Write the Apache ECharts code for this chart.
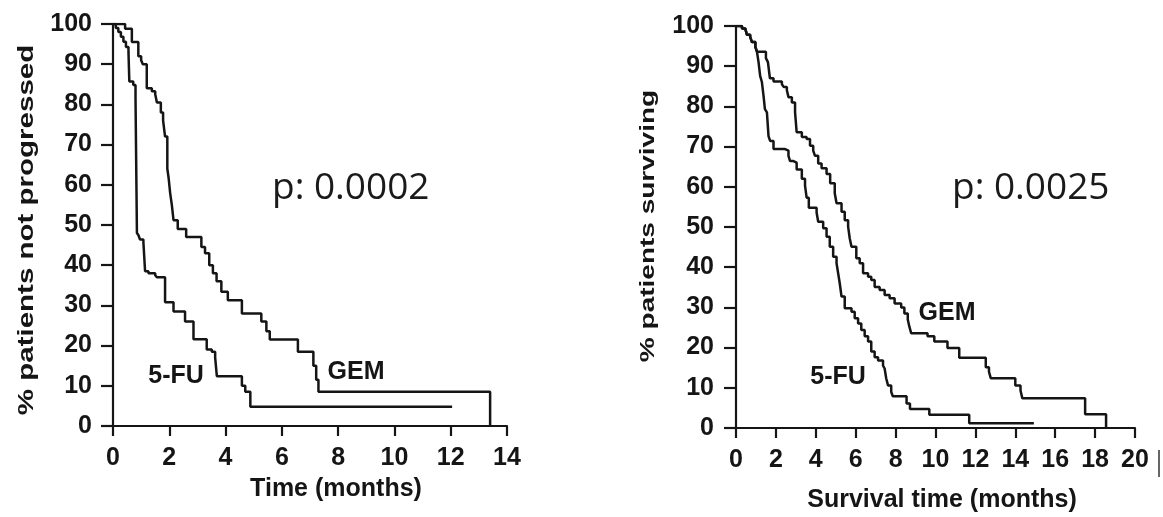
<!DOCTYPE html>
<html>
<head>
<meta charset="utf-8">
<script src="https://cdn.jsdelivr.net/npm/echarts/dist/echarts.min.js"></script>
<style>
  html, body { margin: 0; padding: 0; background: #ffffff; }
  #chart { width: 1163px; height: 517px; }
</style>
</head>
<body>
<div id="chart"></div>
<script>
// Kaplan-Meier curves: progression-free (left panel) and overall survival (right panel)
// Times in months, values in % of patients.

const pfsGemT = [0, 0.43, 0.67, 0.9, 1.0, 1.06, 1.2, 1.38, 1.5, 1.56, 1.7, 1.78, 1.85, 1.93, 1.98, 2.03, 2.09, 2.15, 2.3, 2.6, 3.14, 3.27, 3.42, 3.55, 3.68, 3.85, 4.08, 4.58, 5.27, 5.45, 5.57, 6.57, 7.12, 7.22, 7.3, 13.4];
const pfsGemV = [100, 98.8, 95.5, 92, 91, 90, 84, 83.3, 82.5, 80.5, 78, 76, 72, 64, 61.5, 58, 55, 51.2, 49, 47, 44.5, 43, 40, 38, 36, 33.4, 31.3, 28, 26, 23.6, 21.5, 18.5, 15, 11.5, 8.5, 0];

const pfsFuT = [0, 0.1, 0.19, 0.28, 0.37, 0.46, 0.55, 0.58, 0.72, 0.8, 0.85, 0.9, 0.96, 1.08, 1.14, 1.26, 1.5, 1.56, 1.85, 2.15, 2.56, 2.86, 3.33, 3.51, 3.63, 3.69, 4.58, 4.7, 4.88, 12.05];
const pfsFuV = [100, 99, 98, 96.8, 95.6, 94.3, 93, 85.7, 84.8, 81.6, 48, 47.5, 46.4, 45.7, 38.5, 38, 37.5, 37, 30.8, 28.5, 26, 21.6, 19, 18.5, 17, 12.4, 10, 8.5, 4.8, 4.8];

const osGemT = [0, 0.3, 0.46, 0.55, 0.71, 0.8, 0.97, 1.05, 1.5, 1.6, 1.7, 1.88, 2.3, 2.4, 2.55, 2.63, 2.8, 2.96, 3.04, 3.3, 3.54, 3.71, 3.87, 3.96, 4.12, 4.29, 4.54, 4.72, 4.95, 5.04, 5.29, 5.45, 5.62, 5.7, 5.79, 6.03, 6.2, 6.37, 6.62, 6.78, 6.95, 7.2, 7.45, 7.7, 7.95, 8.28, 8.44, 8.61, 8.69, 8.78, 9.6, 9.94, 10.6, 11.19, 12.52, 12.68, 12.77, 14.0, 14.26, 14.35, 17.5, 18.55];
const osGemV = [100, 99.4, 99, 97.8, 97.3, 96, 94.8, 93.6, 92, 91, 87, 86.2, 85.5, 84.8, 84, 82.3, 81, 78.6, 73.6, 72.4, 71.9, 70.2, 69, 67.7, 65.8, 64.6, 63.2, 60.9, 58.4, 55.9, 53.8, 51.7, 50.1, 47.2, 45.1, 42.2, 41, 38.5, 37.6, 36.8, 35.1, 34.3, 33.1, 32.3, 31, 30, 28.5, 27, 25.2, 23.6, 22.8, 21.5, 19.9, 17.5, 15.1, 14, 12.4, 10.6, 9.4, 7.4, 3.4, 0];

const osFuT = [0, 0.3, 0.46, 0.55, 0.71, 0.8, 0.97, 1.05, 1.13, 1.21, 1.3, 1.38, 1.45, 1.55, 1.63, 1.71, 1.88, 2.46, 2.63, 2.71, 2.88, 3.04, 3.3, 3.46, 3.54, 3.65, 4.04, 4.12, 4.37, 4.54, 4.7, 4.87, 5.04, 5.12, 5.2, 5.29, 5.45, 5.79, 5.95, 6.12, 6.28, 6.45, 6.62, 6.78, 6.95, 7.12, 7.37, 7.45, 7.53, 7.62, 7.78, 7.86, 8.55, 8.72, 9.69, 11.69, 14.93];
const osFuV = [100, 99.4, 99, 97.8, 97.3, 96, 94.8, 93.6, 91, 87.6, 86, 82.6, 79.3, 78.5, 72.6, 71.4, 69.4, 69, 67.7, 66.4, 66, 64.3, 62, 60.3, 57.3, 54.8, 53.6, 51.3, 49.7, 47.6, 45.1, 42.6, 41, 38.5, 36, 32.7, 29.8, 28.9, 27.3, 26, 24.4, 22.8, 21.5, 19, 17.6, 16.8, 15.5, 14.8, 12.3, 10.6, 9, 7.9, 6.1, 4.7, 3.3, 1.2, 1.2];

// Axis ranges
const pfsMonthsMax = 14;
const osMonthsMax = 20;
const monthStep = 2;
const pctMax = 100;
const pctStep = 10;

// Text
const seriesNames = ['GEM', '5-FU'];
const pValues = ['p: 0.0002', 'p: 0.0025'];
const yTitles = ['% patients not progressed', '% patients surviving'];
const xTitles = ['Time (months)', 'Survival time (months)'];

const INK = '#151515';
const FONT = '"Liberation Sans", Arial, Helvetica, sans-serif';

function zip(t, v) { return t.map((x, i) => [x, v[i]]); }

function xAxisCfg(gridIndex, max) {
  return {
    type: 'value', gridIndex, min: 0, max, interval: monthStep,
    axisLine: { show: true, onZero: false, lineStyle: { color: INK, width: 2.2 } },
    axisTick: { show: true, inside: false, length: 10, lineStyle: { color: INK, width: 2.2 } },
    axisLabel: { color: INK, fontSize: 25, fontWeight: 'bold', fontFamily: FONT, margin: 20 },
    splitLine: { show: false }
  };
}
function yAxisCfg(gridIndex, margin) {
  return {
    type: 'value', gridIndex, min: 0, max: pctMax, interval: pctStep,
    axisLine: { show: true, onZero: false, lineStyle: { color: INK, width: 2.2 } },
    axisTick: { show: true, inside: false, length: 12, lineStyle: { color: INK, width: 2.2 } },
    axisLabel: { color: INK, fontSize: 25, fontWeight: 'bold', fontFamily: FONT, margin },
    splitLine: { show: false }
  };
}
function kmSeries(name, xi, data) {
  return {
    type: 'line', name, xAxisIndex: xi, yAxisIndex: xi, data,
    step: 'end', showSymbol: false, symbol: 'none',
    lineStyle: { color: INK, width: 2.5 }, silent: true
  };
}
function boldText(text, x, y, size, extra) {
  return Object.assign({
    type: 'text', x, y, silent: true,
    style: { text, fill: INK, font: 'bold ' + size + 'px ' + FONT, align: 'center', verticalAlign: 'middle' }
  }, extra || {});
}
function pText(text, x, y) {
  return {
    type: 'text', x, y, silent: true,
    style: { text, fill: '#1a1a1a', font: '37px "Open Sans", "Noto Sans", sans-serif', align: 'left', verticalAlign: 'middle' }
  };
}

const chart = echarts.init(document.getElementById('chart'), null, { renderer: 'canvas' });
chart.setOption({
  animation: false,
  backgroundColor: '#ffffff',
  grid: [
    { left: 113, top: 24, width: 394, height: 402 },
    { left: 736, top: 26, width: 399, height: 402 }
  ],
  xAxis: [xAxisCfg(0, pfsMonthsMax), xAxisCfg(1, osMonthsMax)],
  yAxis: [yAxisCfg(0, 21), yAxisCfg(1, 22)],
  series: [
    kmSeries(seriesNames[0], 0, zip(pfsGemT, pfsGemV)),
    kmSeries(seriesNames[1], 0, zip(pfsFuT, pfsFuV)),
    kmSeries(seriesNames[0], 1, zip(osGemT, osGemV)),
    kmSeries(seriesNames[1], 1, zip(osFuT, osFuV))
  ],
  graphic: [
    boldText(yTitles[0], 27, 230, 29.5, { rotation: Math.PI / 2, scaleY: 0.72 }),
    boldText(yTitles[1], 648, 226, 28, { rotation: Math.PI / 2, scaleY: 0.75 }),
    boldText(xTitles[0], 336, 489, 25),
    boldText(xTitles[1], 942, 500, 25),
    boldText(seriesNames[0], 356, 372, 25),
    boldText(seriesNames[1], 176, 376, 25),
    boldText(seriesNames[0], 947, 313, 25),
    boldText(seriesNames[1], 838, 377, 25),
    pText(pValues[0], 272, 188),
    pText(pValues[1], 952, 188),
    { type: 'line', silent: true, shape: { x1: 1159, y1: 450, x2: 1159, y2: 477 }, style: { stroke: '#666', lineWidth: 2 } }
  ]
});
</script>
</body>
</html>
